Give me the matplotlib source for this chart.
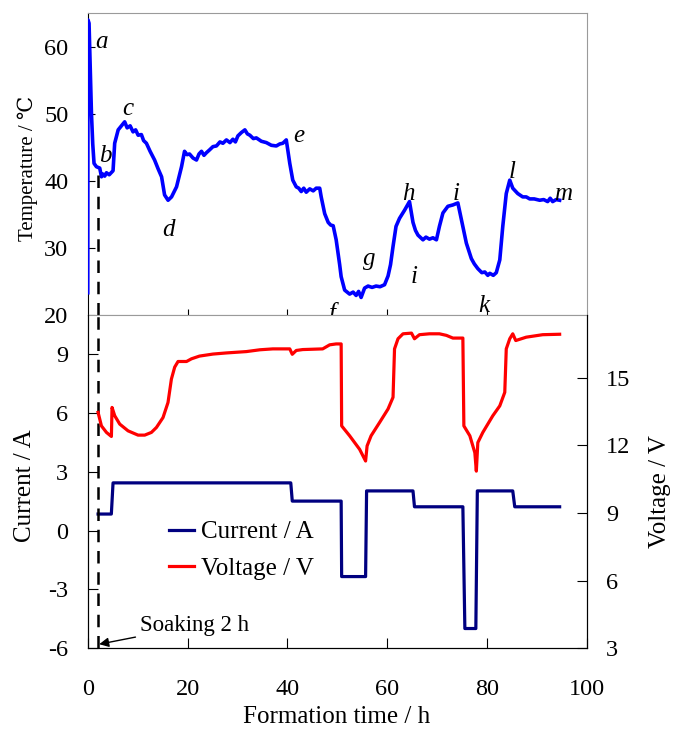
"""
Formation test: cell temperature, current and voltage vs formation time
"""

import matplotlib
matplotlib.use('Agg')
import matplotlib.pyplot as plt
from matplotlib.lines import Line2D

plt.rcParams['font.family'] = ['Liberation Serif', 'DejaVu Serif', 'DejaVu Sans']
plt.rcParams['axes.unicode_minus'] = False

# temperature trace (h, degC)
temp_time = [0.0, 0.05, 0.26, 0.74, 1.0, 1.26, 1.74, 2.4, 2.75, 3.07,
             3.4, 3.75, 4.3, 5.07, 5.4, 6.1, 6.75, 7.4, 7.9, 8.5,
             9.08, 9.6, 10.1, 10.75, 11.2, 11.76, 12.5, 13.4, 14.1, 14.8,
             15.4, 16.1, 16.8, 17.8, 18.8, 19.4, 19.9, 20.4, 21.1, 21.8,
             22.3, 22.8, 23.3, 23.8, 24.4, 25.1, 25.8, 26.5, 27.1, 27.8,
             28.5, 29.1, 29.6, 30.1, 30.8, 31.5, 32.0, 32.5, 33.2, 33.8,
             34.8, 35.8, 36.8, 37.8, 38.5, 39.1, 39.8, 40.5, 41.1, 41.8,
             42.3, 42.8, 43.3, 43.8, 44.5, 45.2, 45.8, 46.5, 46.8, 47.5,
             48.2, 48.7, 49.2, 49.8, 50.5, 50.8, 51.5, 52.0, 52.5, 53.2,
             53.8, 54.3, 54.8, 55.5, 56.2, 57.0, 57.8, 58.6, 59.5, 60.2,
             60.7, 61.2, 61.8, 62.5, 63.5, 64.2, 64.5, 65.2, 65.7, 66.2,
             67.2, 67.8, 68.5, 69.2, 69.9, 70.5, 71.2, 72.2, 73.2, 74.2,
             74.9, 75.9, 76.9, 77.5, 78.2, 79.0, 79.6, 80.2, 80.6, 81.3,
             81.9, 82.6, 83.2, 83.9, 84.6, 85.2, 85.7, 86.2, 87.2, 87.9,
             88.6, 89.5, 90.6, 91.4, 92.2, 92.7, 93.2, 93.9, 94.6]
temp_value = [23.3, 64.0, 63.5, 50.1, 45.5, 42.6, 42.1, 41.9, 40.6, 41.0,
              40.7, 41.2, 40.9, 41.5, 45.6, 47.6, 48.2, 48.8, 47.9, 48.2,
              47.3, 47.6, 46.8, 46.9, 46.0, 45.6, 44.4, 43.1, 41.8, 40.6,
              37.9, 37.1, 37.6, 39.1, 42.1, 44.4, 43.9, 44.0, 43.4, 43.1,
              44.0, 44.4, 43.8, 44.2, 44.6, 45.1, 45.2, 45.8, 45.6, 46.1,
              45.7, 46.2, 45.8, 46.7, 47.2, 47.6, 47.0, 46.8, 46.3, 46.4,
              45.9, 45.7, 45.3, 45.2, 45.5, 45.6, 46.1, 42.6, 40.1, 39.1,
              38.9, 38.4, 38.9, 38.3, 38.8, 38.5, 38.9, 38.9, 37.6, 35.1,
              33.8, 33.4, 33.3, 31.2, 27.5, 25.7, 23.7, 23.4, 23.1, 23.4,
              22.9, 23.5, 22.6, 24.0, 24.3, 24.1, 24.3, 24.2, 24.5, 25.8,
              27.5, 30.2, 33.2, 34.4, 35.6, 36.5, 36.9, 33.8, 32.6, 31.9,
              31.2, 31.6, 31.3, 31.5, 31.2, 33.2, 35.2, 36.2, 36.4, 36.7,
              34.2, 30.7, 28.4, 27.6, 26.9, 26.3, 26.4, 25.9, 26.2, 25.9,
              26.3, 28.2, 33.2, 38.1, 40.1, 38.9, 38.5, 38.1, 37.6, 37.6,
              37.3, 37.3, 37.1, 37.2, 36.9, 37.4, 36.9, 37.2, 37.1]

# stage letters on the temperature curve
letter_names = ['a', 'b', 'c', 'd', 'e', 'f', 'g', 'h', 'i', 'i', 'k', 'l', 'm']
letter_time = [2.74, 3.6, 7.95, 16.1, 42.3, 49.1, 56.5, 64.2, 73.9, 65.5, 79.4, 85.1, 95.3]
letter_temp = [59.8, 42.85, 49.8, 31.7, 45.8, 19.3, 27.5, 37.1, 37.1, 24.7, 20.5, 40.4, 37.1]

# current steps (h, A)
cur_time = [2.07, 4.73, 5.07, 40.7, 41.0, 50.8, 50.9, 55.7, 55.9, 65.2,
            65.5, 75.2, 75.6, 77.8, 78.1, 85.2, 85.6, 94.6]
cur_value = [0.84, 0.84, 2.43, 2.43, 1.50, 1.50, -2.35, -2.35, 2.02, 2.02,
             1.21, 1.21, -5.0, -5.0, 2.02, 2.02, 1.21, 1.21]

# voltage (h, V)
volt_time = [2.07, 2.74, 3.75, 4.74, 4.87, 5.41, 6.41, 8.08, 10.08, 11.42,
             12.76, 13.77, 15.09, 16.09, 16.77, 17.43, 18.1, 19.8, 20.8, 22.4,
             25.1, 27.8, 31.8, 34.5, 37.1, 39.8, 40.5, 41.0, 41.8, 43.1,
             47.1, 48.5, 49.8, 50.8, 50.9, 52.5, 54.5, 55.7, 56.0, 56.8,
             58.5, 60.2, 61.2, 61.5, 62.2, 63.2, 64.9, 65.5, 66.5, 68.5,
             70.5, 71.9, 73.2, 75.2, 75.4, 76.6, 77.6, 77.9, 78.2, 79.2,
             81.2, 82.6, 83.6, 83.9, 84.6, 85.2, 85.8, 87.9, 91.2, 94.6]
volt_value = [13.47, 12.87, 12.58, 12.40, 13.69, 13.32, 12.95, 12.65, 12.46, 12.46,
              12.58, 12.80, 13.24, 13.91, 14.95, 15.48, 15.73, 15.73, 15.85, 15.97,
              16.06, 16.11, 16.17, 16.25, 16.29, 16.29, 16.29, 16.05, 16.22, 16.26,
              16.29, 16.47, 16.51, 16.51, 12.87, 12.43, 11.83, 11.31, 11.98, 12.43,
              13.02, 13.62, 14.14, 16.29, 16.74, 16.96, 16.99, 16.74, 16.92, 16.96,
              16.96, 16.89, 16.77, 16.77, 12.87, 12.43, 11.68, 10.86, 12.13, 12.58,
              13.32, 13.76, 14.36, 16.29, 16.74, 16.96, 16.66, 16.81, 16.92, 16.94]

soak_time = 2.0

TICK_FS = 17.5
GREY = '#9a9a9a'

fig = plt.figure(figsize=(6.75, 7.34), dpi=100)
ax1 = fig.add_axes([0.130, 0.571, 0.739, 0.411])
ax2 = fig.add_axes([0.130, 0.117, 0.739, 0.454])
ax3 = ax2.twinx()

# --- top panel: temperature ---
ax1.plot(temp_time, temp_value, color='#0000ff', linewidth=2.6, zorder=3)
ax1.set_xlim(0, 100)
ax1.set_ylim(20, 65)
ax1.set_yticks([20, 30, 40, 50, 60])
ax1.set_xticks([20, 40, 60, 80])
ax1.tick_params(axis='x', direction='in', length=4, labelbottom=False, color='k')
ax1.tick_params(axis='y', direction='in', length=5, labelsize=TICK_FS, pad=14)
for s in ['top', 'right', 'bottom']:
    ax1.spines[s].set_color(GREY)
ax1.spines['left'].set_color('k')

for name, t, v in zip(letter_names, letter_time, letter_temp):
    ax1.text(t, v, name, fontsize=18, style='italic', ha='center', va='baseline',
             clip_on=False, zorder=5)

ax1.plot([soak_time, soak_time], [20, 41.2], color='k', linestyle=(0, (5, 3.5)),
         linewidth=1.8, clip_on=False, zorder=4)

# --- bottom panel: current & voltage ---
ax2.plot(cur_time, cur_value, color='#000080', linewidth=2.3, zorder=3)
ax3.plot(volt_time, volt_value, color='#ff0000', linewidth=2.3, zorder=3)

ax2.set_xlim(0, 100)
ax2.set_ylim(-6, 11)
ax2.set_yticks([-6, -3, 0, 3, 6, 9])
ax2.set_xticks([0, 20, 40, 60, 80, 100])
ax3.set_ylim(3, 17.8)
ax3.set_yticks([3, 6, 9, 12, 15])

ax2.tick_params(axis='x', direction='in', length=7, labelsize=TICK_FS, pad=22)
ax2.tick_params(axis='y', direction='in', length=7, labelsize=TICK_FS, pad=14)
ax3.tick_params(axis='y', direction='in', length=7, labelsize=TICK_FS, pad=14)
ax2.spines['top'].set_color(GREY)
ax3.spines['top'].set_visible(False)

ax2.plot([soak_time, soak_time], [-6, 11], color='k', linestyle=(0, (5, 3.5)),
         linewidth=1.8, clip_on=False, zorder=4)

ax2.annotate('Soaking 2 h', xy=(2.3, -5.8), xytext=(10.4, -4.85),
             fontsize=16.5, ha='left', va='center',
             arrowprops=dict(arrowstyle='-|>', color='k', lw=1.0,
                             mutation_scale=14, shrinkA=1, shrinkB=0))

handles = [Line2D([], [], color='#000080', linewidth=2.3),
           Line2D([], [], color='#ff0000', linewidth=2.3)]
ax3.legend(handles, ['Current / A', 'Voltage / V'], loc='upper left',
           bbox_to_anchor=(0.162, 0.382), frameon=False, fontsize=18,
           handlelength=1.0, handletextpad=0.3, labelspacing=0.55,
           borderpad=0, borderaxespad=0)

# axis titles
fig.text(28 / 675, 1 - 168 / 734, 'Temperature / ℃', fontsize=15, rotation=90,
         ha='center', va='center')
fig.text(25 / 675, 1 - 486 / 734, 'Current / A', fontsize=18, rotation=90,
         ha='center', va='center')
fig.text(660 / 675, 1 - 492 / 734, 'Voltage / V', fontsize=18, rotation=90,
         ha='center', va='center')
fig.text(337 / 675, 1 - 717 / 734, 'Formation time / h', fontsize=18,
         ha='center', va='center')

plt.savefig('out.png', dpi=100)
plt.close()
